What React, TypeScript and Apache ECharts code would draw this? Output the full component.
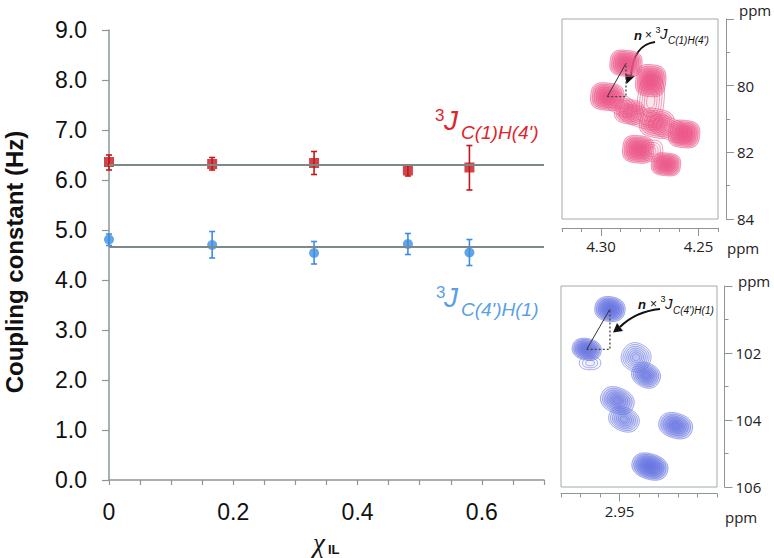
import React, { useEffect, useRef } from "react";
import * as echarts from "echarts";

// ---------- main plot data ----------
const xValues = [0, 0.166, 0.33, 0.481, 0.58];
const redValues = [6.36, 6.32, 6.34, 6.19, 6.25];
const redLow = [6.2, 6.2, 6.11, 6.08, 5.8];
const redHigh = [6.5, 6.45, 6.57, 6.3, 6.69];
const blueValues = [4.81, 4.7, 4.54, 4.72, 4.55];
const blueLow = [4.69, 4.44, 4.32, 4.51, 4.29];
const blueHigh = [4.92, 4.97, 4.77, 4.93, 4.81];
const redMean = 6.3;
const blueMean = 4.66;
const xRange = [0, 0.7];
const yRange = [0, 9];

// ---------- inset data: [x ppm, y ppm, half-width ppm, half-height ppm, tilt, levels, fill alpha] ----------
const topPeaks = [
  [4.2872, 79.33, 0.0082, 0.39, 0.1, 8, 0.3],
  [4.2745, 79.85, 0.0077, 0.48, 0.1, 8, 0.3],
  [4.2968, 80.33, 0.0085, 0.41, 0.1, 8, 0.3],
  [4.2855, 80.78, 0.0074, 0.37, 0.2, 7, 0.2],
  [4.2714, 81.13, 0.0087, 0.43, 0.2, 7, 0.2],
  [4.2574, 81.45, 0.008, 0.41, 0.1, 8, 0.3],
  [4.2809, 81.91, 0.008, 0.41, 0.1, 8, 0.3],
  [4.2667, 82.36, 0.0075, 0.34, 0.1, 8, 0.3],
];
const topRidges = [
  [4.2745, 80.45, 0.0068, 0.75, 0.1, 5, 0.03],
  [4.2795, 80.95, 0.0115, 0.3, 0.3, 5, 0.03],
  [4.2646, 81.3, 0.0115, 0.32, 0.4, 5, 0.03],
  [4.2905, 80.55, 0.009, 0.3, 0.5, 4, 0.03],
  [4.2738, 81.95, 0.0055, 0.32, 0.0, 4, 0.03],
];
const bottomPeaks = [
  [2.9549, 100.69, 0.0078, 0.37, 0.15, 8, 0.3],
  [2.9668, 101.89, 0.0075, 0.32, 0.2, 8, 0.28],
  [2.9651, 102.3, 0.0055, 0.2, 0.0, 3, 0.04],
  [2.9415, 102.13, 0.0075, 0.42, 0.5, 7, 0.07],
  [2.9364, 102.66, 0.0075, 0.36, 0.5, 7, 0.22],
  [2.9511, 103.42, 0.0088, 0.38, 0.4, 7, 0.18],
  [2.9477, 103.98, 0.008, 0.35, 0.4, 7, 0.12],
  [2.9212, 104.17, 0.0088, 0.37, 0.3, 7, 0.24],
  [2.9344, 105.39, 0.0094, 0.38, 0.3, 8, 0.3],
];

const topXRange = [4.24, 4.32];
const topYRange = [78, 84];
const topXLabels = [4.25, 4.3];
const bottomXRange = [2.9, 2.98];
const bottomYRange = [100, 106];
const bottomXLabels = [2.95];

const RED = "#c3171d";
const BLUE = "#3b8fe4";
const AXIS = "#8d9696";
const REFLINE = "#7b8989";
const BOX = "#a2aaaa";

function contourRender(rgb: number[], stroke: string, n: number) {
  return (params: any, api: any) => {
    const x = api.value(0), y = api.value(1);
    const rx = api.value(2), ry = api.value(3), rot = api.value(4);
    const levels = api.value(5), alpha = api.value(6);
    const c = api.coord([x, y]);
    const s = api.size([rx * 2, ry * 2], [x, y]);
    const a = s[0] / 2, b = s[1] / 2;
    const children: any[] = [];
    for (let k = 0; k < levels; k++) {
      const f = 1 - (0.88 * k) / levels;
      const pts: number[][] = [];
      for (let t = 0; t < 44; t++) {
        const th = (t / 44) * Math.PI * 2;
        const ct = Math.cos(th), st = Math.sin(th);
        const ex = a * f * Math.sign(ct) * Math.pow(Math.abs(ct), 2 / n);
        const ey = b * f * Math.sign(st) * Math.pow(Math.abs(st), 2 / n);
        pts.push([
          c[0] + ex * Math.cos(rot) - ey * Math.sin(rot),
          c[1] + ex * Math.sin(rot) + ey * Math.cos(rot),
        ]);
      }
      children.push({
        type: "polygon",
        shape: { points: pts },
        style: { fill: `rgba(${rgb[0]},${rgb[1]},${rgb[2]},${alpha})`, stroke, lineWidth: 0.6 },
      });
    }
    return { type: "group", children };
  };
}

function errorRender(color: string) {
  return (params: any, api: any) => {
    const x = api.value(0);
    const top = api.coord([x, api.value(2)]);
    const bot = api.coord([x, api.value(1)]);
    const w = 3;
    const st = { stroke: color, lineWidth: 1.6 };
    return {
      type: "group",
      children: [
        { type: "line", shape: { x1: top[0], y1: top[1], x2: bot[0], y2: bot[1] }, style: st },
        { type: "line", shape: { x1: top[0] - w, y1: top[1], x2: top[0] + w, y2: top[1] }, style: st },
        { type: "line", shape: { x1: bot[0] - w, y1: bot[1], x2: bot[0] + w, y2: bot[1] }, style: st },
      ],
    };
  };
}

const SANS = "Liberation Sans";
const INSET = "Open Sans";

function txt(text: string, x: number, y: number, o: any = {}) {
  return {
    type: "text",
    x,
    y,
    rotation: o.rotation || 0,
    silent: true,
    style: {
      text,
      fill: o.fill || "#111",
      fontSize: o.size || 14,
      fontFamily: o.family || SANS,
      fontStyle: o.italic ? "italic" : "normal",
      fontWeight: o.bold ? "bold" : "normal",
      align: o.align || "left",
      verticalAlign: "middle",
    },
  };
}

export default function App() {
  const ref = useRef<HTMLDivElement>(null);
  useEffect(() => {
    document.body.style.margin = "0";
    if (!ref.current) return;
    const chart = echarts.init(ref.current, null, { renderer: "svg" });

    const insetX = (grid: number, range: number[], offset: number) => ({
      gridIndex: grid,
      type: "value",
      min: range[0],
      max: range[1],
      inverse: true,
      interval: 0.01,
      position: "bottom",
      offset,
      axisLine: { show: true, lineStyle: { color: AXIS, width: 1 } },
      axisTick: { show: true, length: 4, lineStyle: { color: AXIS } },
      axisLabel: { show: false },
      splitLine: { show: false },
    });
    const insetXMajor = (grid: number, range: number[], offset: number, vals: number[]) => ({
      gridIndex: grid,
      type: "value",
      min: range[0],
      max: range[1],
      inverse: true,
      position: "bottom",
      offset,
      axisLine: { show: false },
      axisTick: { show: true, length: 8, customValues: vals, lineStyle: { color: AXIS } },
      axisLabel: {
        show: true,
        customValues: vals,
        formatter: (v: number) => v.toFixed(2),
        margin: 10,
        fontSize: 15,
        fontFamily: INSET,
        color: "#222",
      },
      splitLine: { show: false },
    });
    const insetY = (grid: number, range: number[], offset: number) => ({
      gridIndex: grid,
      type: "value",
      min: range[0],
      max: range[1],
      inverse: true,
      interval: 2,
      position: "right",
      offset,
      axisLine: { show: true, lineStyle: { color: AXIS, width: 1 } },
      axisTick: { show: true, length: 8, lineStyle: { color: AXIS } },
      minorTick: { show: true, splitNumber: 2, length: 4, lineStyle: { color: AXIS } },
      axisLabel: {
        show: true,
        formatter: (v: number) => (v === range[0] ? "" : String(v)),
        margin: 11,
        fontSize: 15,
        fontFamily: INSET,
        color: "#222",
      },
      splitLine: { show: false },
      minorSplitLine: { show: false },
    });

    const option: any = {
      animation: false,
      backgroundColor: "#fff",
      grid: [
        { left: 109, top: 30, width: 435, height: 450, outerBoundsMode: "none", containLabel: false },
        {
          left: 562, top: 19, width: 156, height: 200, show: true, borderColor: BOX, borderWidth: 1,
          backgroundColor: "transparent", outerBoundsMode: "none", containLabel: false,
        },
        {
          left: 561, top: 286, width: 156, height: 201, show: true, borderColor: BOX, borderWidth: 1,
          backgroundColor: "transparent", outerBoundsMode: "none", containLabel: false,
        },
      ],
      xAxis: [
        {
          gridIndex: 0,
          type: "value",
          min: xRange[0],
          max: xRange[1],
          interval: 0.05,
          axisLine: { show: true, onZero: false, lineStyle: { color: AXIS, width: 1.5 } },
          axisTick: { show: true, length: 5, lineStyle: { color: AXIS, width: 1.2 } },
          axisLabel: {
            interval: 0,
            margin: 20,
            fontSize: 23,
            fontFamily: SANS,
            color: "#111",
            formatter: (v: number) => {
              const r = v * 5;
              if (Math.abs(r - Math.round(r)) > 1e-6) return "";
              return Math.abs(v) < 1e-9 ? "0" : v.toFixed(1);
            },
          },
          splitLine: { show: false },
        },
        insetX(1, topXRange, 9),
        insetXMajor(1, topXRange, 9, topXLabels),
        insetX(2, bottomXRange, 6.5),
        insetXMajor(2, bottomXRange, 6.5, bottomXLabels),
      ],
      yAxis: [
        {
          gridIndex: 0,
          type: "value",
          min: yRange[0],
          max: yRange[1],
          interval: 1,
          axisLine: { show: true, lineStyle: { color: AXIS, width: 1.5 } },
          axisTick: { show: true, length: 7, lineStyle: { color: AXIS, width: 1.2 } },
          axisLabel: {
            margin: 22,
            fontSize: 23,
            fontFamily: SANS,
            color: "#111",
            formatter: (v: number) => v.toFixed(1),
          },
          splitLine: { show: false },
        },
        insetY(1, topYRange, 8),
        insetY(2, bottomYRange, 7.5),
      ],
      series: [
        {
          type: "line",
          xAxisIndex: 0,
          yAxisIndex: 0,
          data: [[xRange[0], redMean], [xRange[1], redMean]],
          symbol: "none",
          lineStyle: { color: REFLINE, width: 1.8 },
          silent: true,
        },
        {
          type: "line",
          xAxisIndex: 0,
          yAxisIndex: 0,
          data: [[xRange[0], blueMean], [xRange[1], blueMean]],
          symbol: "none",
          lineStyle: { color: REFLINE, width: 1.8 },
          silent: true,
        },
        {
          type: "custom",
          xAxisIndex: 0,
          yAxisIndex: 0,
          renderItem: errorRender(RED),
          data: xValues.map((x, i) => [x, redLow[i], redHigh[i]]),
          encode: { x: 0, y: [1, 2] },
          silent: true,
        },
        {
          type: "custom",
          xAxisIndex: 0,
          yAxisIndex: 0,
          renderItem: errorRender(BLUE),
          data: xValues.map((x, i) => [x, blueLow[i], blueHigh[i]]),
          encode: { x: 0, y: [1, 2] },
          silent: true,
        },
        {
          type: "scatter",
          xAxisIndex: 0,
          yAxisIndex: 0,
          symbol: "rect",
          symbolSize: 10,
          itemStyle: { color: RED },
          data: xValues.map((x, i) => [x, redValues[i]]),
          silent: true,
        },
        {
          type: "scatter",
          xAxisIndex: 0,
          yAxisIndex: 0,
          symbol: "circle",
          symbolSize: 10,
          itemStyle: { color: BLUE },
          data: xValues.map((x, i) => [x, blueValues[i]]),
          silent: true,
        },
        {
          type: "custom",
          xAxisIndex: 1,
          yAxisIndex: 1,
          renderItem: contourRender([236, 84, 136], "#ec5a8c", 2.6),
          data: topRidges,
          encode: { x: 0, y: 1 },
          silent: true,
        },
        {
          type: "custom",
          xAxisIndex: 1,
          yAxisIndex: 1,
          renderItem: contourRender([236, 84, 136], "#ec5a8c", 3),
          data: topPeaks,
          encode: { x: 0, y: 1 },
          silent: true,
        },
        {
          type: "line",
          xAxisIndex: 1,
          yAxisIndex: 1,
          data: [[topPeaks[0][0], topPeaks[0][1]], [topPeaks[2][0], topPeaks[2][1]]],
          symbol: "none",
          lineStyle: { color: "#333", width: 1 },
          silent: true,
        },
        {
          type: "line",
          xAxisIndex: 1,
          yAxisIndex: 1,
          data: [
            [topPeaks[2][0], topPeaks[2][1]],
            [topPeaks[0][0], topPeaks[2][1]],
            [topPeaks[0][0], topPeaks[0][1]],
          ],
          symbol: "none",
          lineStyle: { color: "#444", width: 1.3, type: [2, 2] },
          silent: true,
        },
        {
          type: "custom",
          xAxisIndex: 3,
          yAxisIndex: 2,
          renderItem: contourRender([100, 112, 224], "#6a78e2", 2.3),
          data: bottomPeaks,
          encode: { x: 0, y: 1 },
          silent: true,
        },
        {
          type: "line",
          xAxisIndex: 3,
          yAxisIndex: 2,
          data: [[bottomPeaks[0][0], bottomPeaks[0][1]], [bottomPeaks[1][0], bottomPeaks[1][1]]],
          symbol: "none",
          lineStyle: { color: "#333", width: 1 },
          silent: true,
        },
        {
          type: "line",
          xAxisIndex: 3,
          yAxisIndex: 2,
          data: [
            [bottomPeaks[1][0], bottomPeaks[1][1]],
            [bottomPeaks[0][0], bottomPeaks[1][1]],
            [bottomPeaks[0][0], bottomPeaks[0][1]],
          ],
          symbol: "none",
          lineStyle: { color: "#444", width: 1.3, type: [2, 2] },
          silent: true,
        },
      ],
      graphic: [
        txt("Coupling constant (Hz)", 14, 262, { size: 24, bold: true, align: "center", rotation: Math.PI / 2 }),
        txt("\u03c7", 313, 543, { size: 27, italic: true, family: "Liberation Serif" }),
        txt("IL", 328, 549, { size: 13, bold: true }),
        // red label
        txt("3", 435, 115, { size: 17, fill: "#e0242c" }),
        txt("J", 444, 120, { size: 28, italic: true, fill: "#e0242c" }),
        txt("C(1)H(4')", 461, 132, { size: 19, italic: true, fill: "#e0242c" }),
        // blue label
        txt("3", 436, 292, { size: 17, fill: "#5b9fe8" }),
        txt("J", 444, 297, { size: 28, italic: true, fill: "#5b9fe8" }),
        txt("C(4')H(1)", 461, 309, { size: 19, italic: true, fill: "#5b9fe8" }),
        // inset axis units
        txt("ppm", 739, 10, { size: 15, family: INSET, fill: "#222" }),
        txt("ppm", 727, 248, { size: 15, family: INSET, fill: "#222" }),
        txt("ppm", 738, 281, { size: 15, family: INSET, fill: "#222" }),
        txt("ppm", 725, 517, { size: 15, family: INSET, fill: "#222" }),
        // top annotation
        txt("n", 634, 35, { size: 13, italic: true, bold: true }),
        txt("\u00d7", 645, 35, { size: 12 }),
        txt("3", 655.5, 29.5, { size: 9 }),
        txt("J", 660, 33.5, { size: 15, italic: true }),
        txt("C(1)H(4')", 668, 40, { size: 10, italic: true }),
        // bottom annotation
        txt("n", 638, 304, { size: 13, italic: true, bold: true }),
        txt("\u00d7", 650, 304, { size: 12 }),
        txt("3", 660.5, 299, { size: 9 }),
        txt("J", 665, 303, { size: 15, italic: true }),
        txt("C(4')H(1)", 673, 310, { size: 10, italic: true }),
        // arrows
        {
          type: "bezierCurve",
          silent: true,
          shape: { x1: 655, y1: 42, cpx1: 640, cpy1: 44, cpx2: 633, cpy2: 55, x2: 631, y2: 75 },
          style: { stroke: "#111", lineWidth: 2, fill: "none" },
        },
        {
          type: "polygon",
          silent: true,
          shape: { points: [[626.5, 84], [625, 73.5], [635, 76]] },
          style: { fill: "#111" },
        },
        {
          type: "bezierCurve",
          silent: true,
          shape: { x1: 660, y1: 309, cpx1: 641, cpy1: 311, cpx2: 629, cpy2: 318, x2: 620, y2: 327 },
          style: { stroke: "#111", lineWidth: 2, fill: "none" },
        },
        {
          type: "polygon",
          silent: true,
          shape: { points: [[613, 332.5], [617, 323], [623, 331]] },
          style: { fill: "#111" },
        },
      ],
    };
    chart.setOption(option);
    return () => chart.dispose();
  }, []);
  return <div ref={ref} style={{ width: 774, height: 558 }} />;
}
